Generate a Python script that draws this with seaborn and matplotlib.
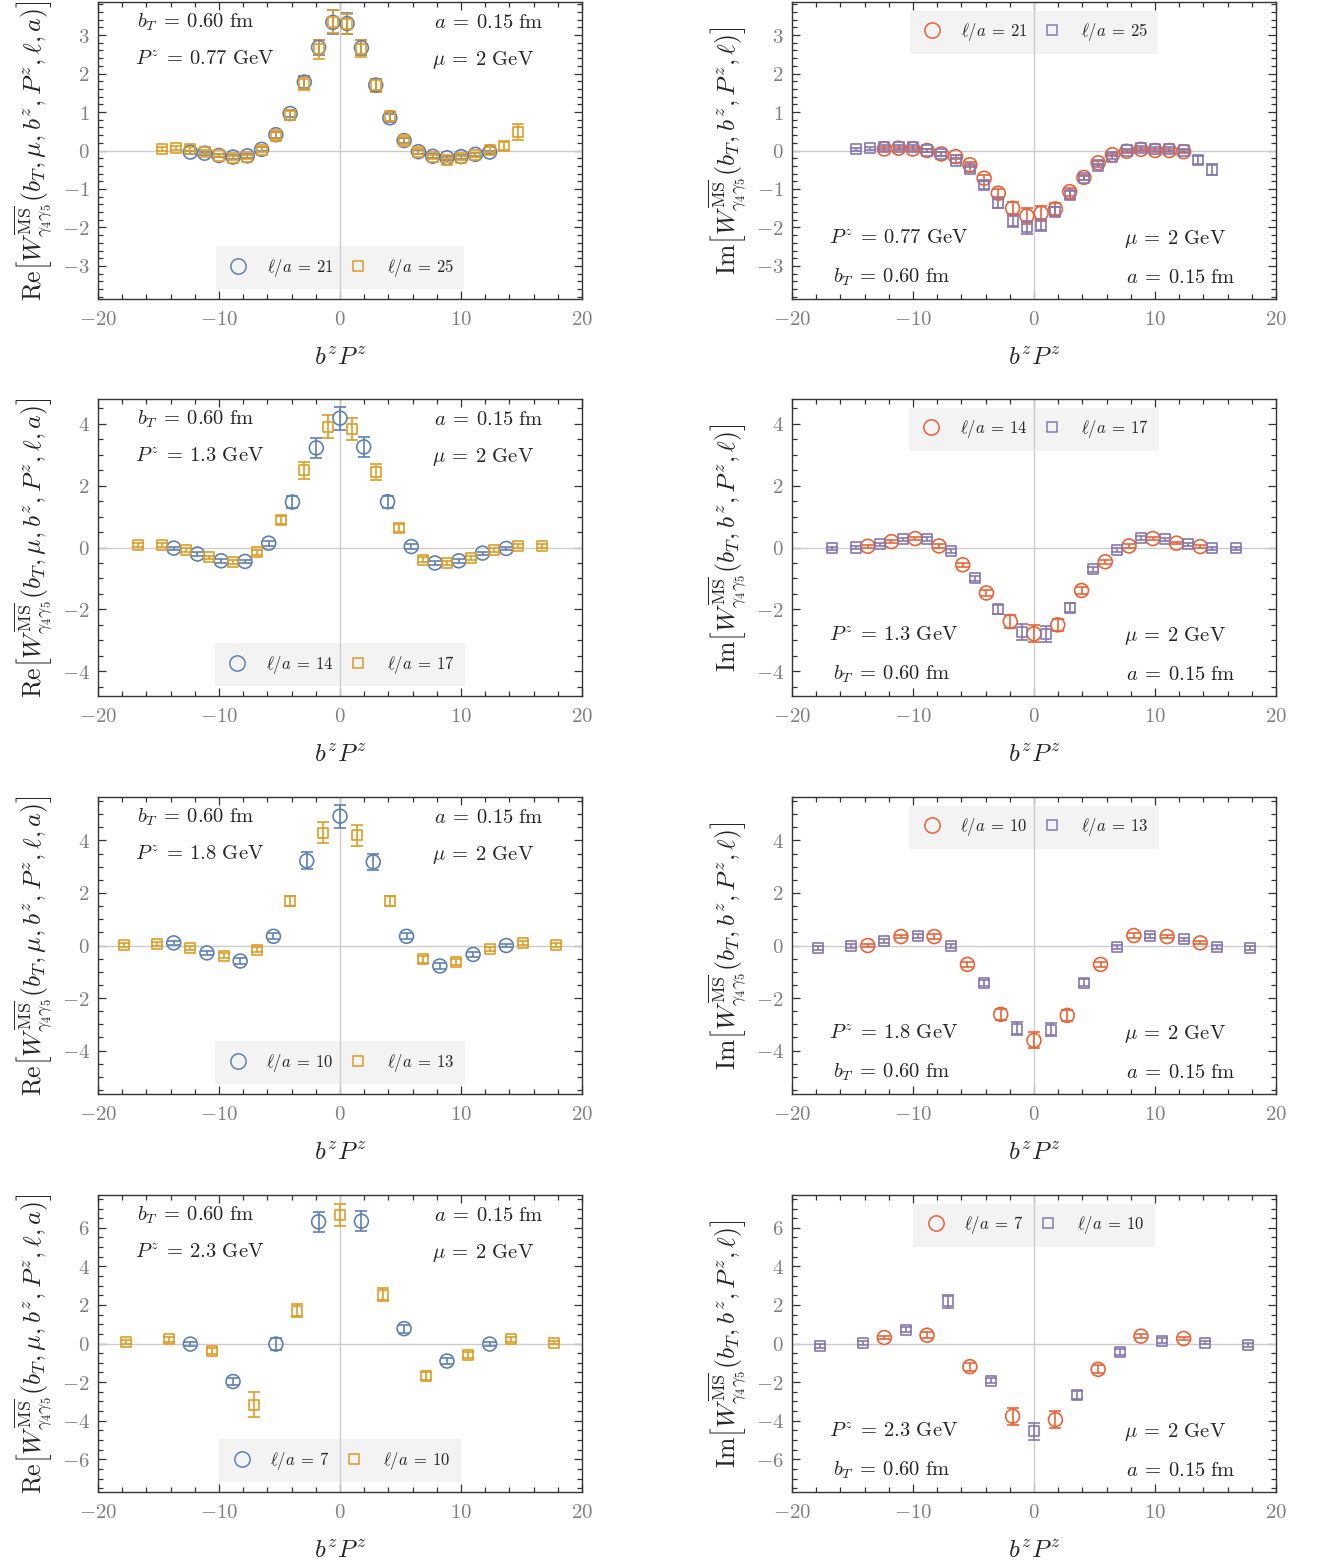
import matplotlib
matplotlib.use('Agg')
import matplotlib.pyplot as plt
import seaborn as sns
from matplotlib.lines import Line2D
from matplotlib.ticker import MultipleLocator

# ---------------- data ----------------
PZ_LABELS = ["0.77", "1.3", "1.8", "2.3"]
ELL_A = [("21", "25"), ("14", "17"), ("10", "13"), ("7", "10")]

# Row 1 : P^z = 0.77 GeV
x1a = [-12.37, -11.19, -10.01, -8.84, -7.66, -6.48, -5.30, -4.12, -2.95, -1.77, -0.59,
       0.59, 1.77, 2.95, 4.12, 5.30, 6.48, 7.66, 8.84, 10.01, 11.19, 12.37]
re1a = [-0.04, -0.07, -0.13, -0.17, -0.14, 0.03, 0.41, 0.96, 1.78, 2.68, 3.33,
        3.30, 2.67, 1.70, 0.85, 0.26, -0.03, -0.15, -0.19, -0.16, -0.10, -0.04]
re1a_e = [0.04, 0.04, 0.04, 0.05, 0.05, 0.05, 0.08, 0.10, 0.15, 0.20, 0.31,
          0.28, 0.20, 0.15, 0.10, 0.06, 0.05, 0.05, 0.05, 0.05, 0.04, 0.04]
im1a = [0.04, 0.06, 0.04, 0.00, -0.09, -0.16, -0.37, -0.72, -1.11, -1.50, -1.70,
        -1.63, -1.52, -1.07, -0.70, -0.32, -0.11, -0.02, 0.03, 0.00, 0.00, -0.03]
im1a_e = [0.04, 0.04, 0.04, 0.04, 0.04, 0.05, 0.06, 0.08, 0.10, 0.15, 0.20,
          0.20, 0.15, 0.10, 0.07, 0.05, 0.04, 0.04, 0.04, 0.04, 0.04, 0.04]
x1b = [-14.73, -13.55, -12.37, -11.19, -10.01, -8.84, -7.66, -6.48, -5.30, -4.12, -2.95, -1.77, -0.59,
       0.59, 1.77, 2.95, 4.12, 5.30, 6.48, 7.66, 8.84, 10.01, 11.19, 12.37, 13.55, 14.73]
re1b = [0.03, 0.06, 0.03, -0.04, -0.13, -0.20, -0.17, 0.02, 0.39, 0.91, 1.74, 2.63, 3.35,
        3.29, 2.65, 1.69, 0.89, 0.26, -0.03, -0.17, -0.24, -0.20, -0.11, 0.02, 0.11, 0.48]
re1b_e = [0.05, 0.05, 0.05, 0.05, 0.05, 0.05, 0.05, 0.06, 0.08, 0.12, 0.18, 0.24, 0.30,
          0.25, 0.23, 0.18, 0.12, 0.08, 0.06, 0.05, 0.05, 0.05, 0.05, 0.06, 0.10, 0.22]
im1b = [0.03, 0.06, 0.09, 0.09, 0.09, 0.00, -0.09, -0.26, -0.48, -0.89, -1.37, -1.83, -2.00,
        -1.94, -1.59, -1.16, -0.71, -0.39, -0.17, 0.00, 0.06, 0.04, 0.04, 0.00, -0.24, -0.50]
im1b_e = [0.04, 0.04, 0.05, 0.05, 0.05, 0.05, 0.05, 0.06, 0.07, 0.10, 0.12, 0.15, 0.17,
          0.15, 0.12, 0.10, 0.06, 0.05, 0.05, 0.05, 0.05, 0.05, 0.05, 0.05, 0.10, 0.14]

# Row 2 : P^z = 1.3 GeV
x2a = [-13.74, -11.78, -9.82, -7.85, -5.89, -3.93, -1.96, 0.0, 1.96, 3.93, 5.89, 7.85, 9.82, 11.78, 13.74]
re2a = [-0.02, -0.21, -0.43, -0.45, 0.14, 1.47, 3.22, 4.18, 3.25, 1.48, 0.03, -0.50, -0.43, -0.18, -0.03]
re2a_e = [0.05, 0.05, 0.06, 0.06, 0.08, 0.19, 0.32, 0.37, 0.32, 0.19, 0.08, 0.06, 0.06, 0.05, 0.05]
im2a = [0.04, 0.19, 0.29, 0.05, -0.56, -1.47, -2.39, -2.79, -2.50, -1.39, -0.46, 0.05, 0.29, 0.14, 0.03]
im2a_e = [0.04, 0.04, 0.05, 0.06, 0.07, 0.10, 0.21, 0.27, 0.20, 0.10, 0.07, 0.05, 0.05, 0.04, 0.04]
x2b = [-16.69, -14.73, -12.76, -10.80, -8.84, -6.87, -4.91, -2.95, -0.98,
       0.98, 2.95, 4.91, 6.87, 8.84, 10.80, 12.76, 14.73, 16.69]
re2b = [0.08, 0.08, -0.08, -0.32, -0.48, -0.16, 0.89, 2.49, 3.91,
        3.83, 2.43, 0.64, -0.40, -0.50, -0.33, -0.09, 0.05, 0.04]
re2b_e = [0.06, 0.06, 0.06, 0.06, 0.06, 0.08, 0.13, 0.26, 0.36,
          0.36, 0.26, 0.13, 0.08, 0.06, 0.06, 0.06, 0.06, 0.06]
im2b = [-0.02, 0.00, 0.11, 0.27, 0.27, -0.11, -0.99, -2.00, -2.73,
        -2.79, -1.94, -0.70, -0.09, 0.30, 0.27, 0.11, -0.02, -0.03]
im2b_e = [0.05, 0.05, 0.05, 0.05, 0.06, 0.06, 0.08, 0.15, 0.25,
          0.25, 0.15, 0.08, 0.06, 0.06, 0.05, 0.05, 0.05, 0.05]

# Row 3 : P^z = 1.8 GeV
x3a = [-13.74, -11.00, -8.25, -5.50, -2.75, 0.0, 2.75, 5.50, 8.25, 11.00, 13.74]
re3a = [0.10, -0.28, -0.59, 0.35, 3.22, 4.92, 3.18, 0.35, -0.78, -0.34, 0.00]
re3a_e = [0.07, 0.08, 0.10, 0.12, 0.32, 0.44, 0.32, 0.12, 0.10, 0.08, 0.07]
im3a = [0.00, 0.34, 0.34, -0.72, -2.62, -3.61, -2.66, -0.72, 0.38, 0.34, 0.10]
im3a_e = [0.06, 0.07, 0.08, 0.10, 0.20, 0.30, 0.20, 0.10, 0.08, 0.07, 0.06]
x3b = [-17.87, -15.12, -12.37, -9.62, -6.87, -4.12, -1.37, 1.37, 4.12, 6.87, 9.62, 12.37, 15.12, 17.87]
re3b = [0.03, 0.06, -0.10, -0.39, -0.16, 1.70, 4.29, 4.20, 1.70, -0.53, -0.63, -0.13, 0.10, 0.03]
re3b_e = [0.07, 0.07, 0.08, 0.10, 0.10, 0.20, 0.40, 0.40, 0.20, 0.12, 0.10, 0.08, 0.07, 0.07]
im3b = [-0.09, -0.01, 0.18, 0.35, -0.01, -1.43, -3.16, -3.20, -1.41, -0.06, 0.35, 0.23, -0.06, -0.09]
im3b_e = [0.07, 0.07, 0.07, 0.07, 0.08, 0.12, 0.25, 0.25, 0.12, 0.08, 0.07, 0.07, 0.07, 0.07]

# Row 4 : P^z = 2.3 GeV
x4a = [-12.37, -8.84, -5.30, -1.77, 1.77, 5.30, 8.84, 12.37]
re4a = [-0.03, -1.97, -0.03, 6.31, 6.34, 0.77, -0.91, -0.03]
re4a_e = [0.10, 0.20, 0.30, 0.52, 0.52, 0.20, 0.15, 0.10]
im4a = [0.31, 0.43, -1.20, -3.77, -3.95, -1.34, 0.38, 0.26]
im4a_e = [0.10, 0.15, 0.20, 0.43, 0.43, 0.20, 0.12, 0.10]
x4b = [-17.67, -14.14, -10.60, -7.07, -3.53, 0.0, 3.53, 7.07, 10.60, 14.14, 17.67]
re4b = [0.09, 0.21, -0.38, -3.17, 1.70, 6.65, 2.52, -1.68, -0.60, 0.21, 0.05]
re4b_e = [0.10, 0.12, 0.15, 0.66, 0.34, 0.58, 0.34, 0.20, 0.15, 0.12, 0.10]
im4b = [-0.15, 0.02, 0.72, 2.18, -1.92, -4.55, -2.66, -0.45, 0.15, 0.05, -0.09]
im4b_e = [0.10, 0.10, 0.12, 0.34, 0.15, 0.45, 0.20, 0.15, 0.12, 0.10, 0.10]

ROWS = [
    (x1a, re1a, re1a_e, im1a, im1a_e, x1b, re1b, re1b_e, im1b, im1b_e),
    (x2a, re2a, re2a_e, im2a, im2a_e, x2b, re2b, re2b_e, im2b, im2b_e),
    (x3a, re3a, re3a_e, im3a, im3a_e, x3b, re3b, re3b_e, im3b, im3b_e),
    (x4a, re4a, re4a_e, im4a, im4a_e, x4b, re4b, re4b_e, im4b, im4b_e),
]
YLIMS = [3.86, 4.8, 5.65, 7.7]
YMAJ = [1, 2, 2, 2]
YMIN = [0.2, 0.5, 0.5, 0.5]

# ---------------- style ----------------
sns.set_theme(style='ticks')
plt.rcParams['font.family'] = ['DejaVu Serif']
plt.rcParams['mathtext.fontset'] = 'cm'

BLUE = '#5E81B5'
ORANGE = '#E19C24'
RED = '#EB6235'
PURPLE = '#8778B3'
TICKLAB = '#808080'
FRAME = '#333333'

W, H = 1320, 1568
fig = plt.figure(figsize=(W / 100, H / 100), dpi=100)
tops = [2, 399, 797, 1195]
AX_H = 297
lefts = [98, 792]
AX_W = 484

RE_LABEL = r'$\mathrm{Re}\left[W^{\overline{\mathrm{MS}}}_{\gamma_4\gamma_5}(b_T,\mu,b^z,P^z,\ell,a)\right]$'
IM_LABEL = r'$\mathrm{Im}\left[W^{\overline{\mathrm{MS}}}_{\gamma_4\gamma_5}(b_T,b^z,P^z,\ell)\right]$'
TXT = 14.8
EQ = r'\:=\:'


def series(ax, x, y, e, color, marker, size):
    ax.errorbar(x, y, yerr=e, fmt='none', ecolor=color, elinewidth=1.2,
                capsize=4.5, capthick=1.2, zorder=3)
    sns.scatterplot(x=x, y=y, ax=ax, marker=marker, s=size, facecolor='none',
                    edgecolor=color, linewidth=1.2, legend=False, zorder=4)


def style_axes(ax, ylim, ymaj, ymin):
    ax.set_xlim(-20, 20)
    ax.set_ylim(-ylim, ylim)
    ax.axhline(0, color='#cccccc', lw=1.0, zorder=1)
    ax.axvline(0, color='#cccccc', lw=1.0, zorder=1)
    xt = [-20, -10, 0, 10, 20]
    ax.set_xticks(xt)
    ax.set_xticklabels([r'$%d$' % v for v in xt])
    ax.xaxis.set_minor_locator(MultipleLocator(2))
    n = int(ylim // ymaj)
    yt = [k * ymaj for k in range(-n, n + 1)]
    ax.set_yticks(yt)
    ax.set_yticklabels([r'$%d$' % v for v in yt])
    ax.yaxis.set_minor_locator(MultipleLocator(ymin))
    ax.tick_params(which='both', direction='in', top=True, right=True,
                   color=FRAME, labelcolor=TICKLAB, labelsize=15, width=0.9)
    ax.tick_params(which='major', length=6)
    ax.tick_params(which='minor', length=3.5)
    ax.tick_params(axis='x', which='both', pad=8)
    ax.tick_params(axis='y', which='both', pad=6)
    for sp in ax.spines.values():
        sp.set_color(FRAME)
        sp.set_linewidth(1.0)
    ax.set_xlabel(r'$b^zP^z$', fontsize=18)
    ax.xaxis.set_label_coords(0.5, -0.16)
    ax.grid(False)


for i in range(4):
    xa, rea, rea_e, ima, ima_e, xb, reb, reb_e, imb, imb_e = ROWS[i]
    la, lb = ELL_A[i]
    pz = PZ_LABELS[i]
    bt_txt = r'$b_T%s0.60\ \mathrm{fm}$' % EQ
    pz_txt = r'$P^z%s%s\ \mathrm{GeV}$' % (EQ, pz)
    a_txt = r'$a%s0.15\ \mathrm{fm}$' % EQ
    mu_txt = r'$\mu%s2\ \mathrm{GeV}$' % EQ
    for j in range(2):
        rect = [lefts[j] / W, 1 - (tops[i] + AX_H) / H, AX_W / W, AX_H / H]
        ax = fig.add_axes(rect)
        style_axes(ax, YLIMS[i], YMAJ[i], YMIN[i])
        if j == 0:
            ca, cb = BLUE, ORANGE
            series(ax, xa, rea, rea_e, ca, 'o', 100)
            series(ax, xb, reb, reb_e, cb, 's', 52)
            ax.set_ylabel(RE_LABEL, fontsize=18.5)
            ax.yaxis.set_label_coords(-0.088, 0.5)
            ax.text(0.08, 0.932, bt_txt, transform=ax.transAxes,
                    fontsize=TXT, ha='left', va='center')
            ax.text(0.076, 0.805, pz_txt, transform=ax.transAxes,
                    fontsize=TXT, ha='left', va='center')
            ax.text(0.695, 0.932, a_txt, transform=ax.transAxes,
                    fontsize=TXT, ha='left', va='center')
            ax.text(0.69, 0.805, mu_txt, transform=ax.transAxes,
                    fontsize=TXT, ha='left', va='center')
            anchor = (0.5, 0.034)
            loc = 'lower center'
        else:
            ca, cb = RED, PURPLE
            series(ax, xa, ima, ima_e, ca, 'o', 100)
            series(ax, xb, imb, imb_e, cb, 's', 52)
            ax.set_ylabel(IM_LABEL, fontsize=18.5)
            ax.yaxis.set_label_coords(-0.088, 0.5)
            ax.text(0.076, 0.203, pz_txt, transform=ax.transAxes,
                    fontsize=TXT, ha='left', va='center')
            ax.text(0.085, 0.073, bt_txt, transform=ax.transAxes,
                    fontsize=TXT, ha='left', va='center')
            ax.text(0.685, 0.203, mu_txt, transform=ax.transAxes,
                    fontsize=TXT, ha='left', va='center')
            ax.text(0.69, 0.073, a_txt, transform=ax.transAxes,
                    fontsize=TXT, ha='left', va='center')
            anchor = (0.5, 0.97)
            loc = 'upper center'
        handles = [Line2D([], [], marker='o', ls='none', mfc='none', mec=ca, ms=11, mew=1.1),
                   Line2D([], [], marker='s', ls='none', mfc='none', mec=cb, ms=7.5, mew=1.1)]
        labels = [r'$\ell/a%s%s$' % (EQ, la), r'$\ell/a%s%s$' % (EQ, lb)]
        leg = ax.legend(handles, labels, ncol=2, loc=loc, bbox_to_anchor=anchor,
                        borderaxespad=0, frameon=True, fancybox=False,
                        facecolor='#f3f3f3', edgecolor='none', framealpha=1,
                        fontsize=12, borderpad=0.62, handletextpad=1.0,
                        handlelength=1.45, columnspacing=0.75)
        leg.set_zorder(0.8)

fig.savefig('out.png', dpi=100)
